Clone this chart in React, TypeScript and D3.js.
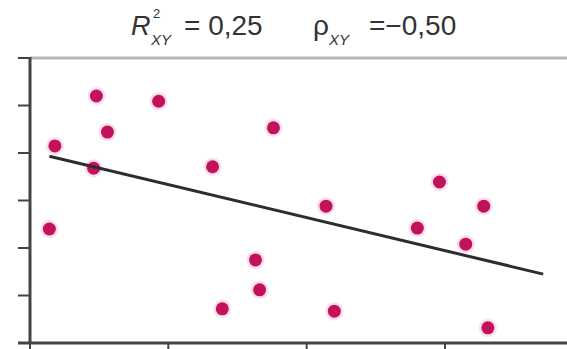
import { useMemo } from 'react';
import { scaleLinear, line, mean } from 'd3';

// scatter values
const xs = [0.14, 0.18, 0.48, 0.46, 0.56, 0.93, 1.32, 1.76, 1.39, 1.63, 1.66, 2.14, 2.2, 2.8, 2.96, 3.15, 3.28, 3.31];
const ys = [2.4, 4.15, 5.2, 3.68, 4.44, 5.09, 3.71, 4.53, 0.72, 1.75, 1.12, 2.88, 0.67, 2.42, 3.39, 2.08, 2.88, 0.32];
const trendX = [0.14, 3.71];
const xTicks = [0, 1, 2, 3];
const yTicks = [0, 1, 2, 3, 4, 5, 6];

const W = 567;
const H = 349;

export default function App() {
    const xScale = scaleLinear().domain([0, 3]).range([30, 445]);
    const yScale = scaleLinear().domain([0, 6]).range([343, 58]);

    // least squares fit for the trend line
    const fit = useMemo(() => {
        const mx = mean(xs) as number;
        const my = mean(ys) as number;
        let sxy = 0;
        let sxx = 0;
        xs.forEach((x, i) => {
            sxy += (x - mx) * (ys[i] - my);
            sxx += (x - mx) * (x - mx);
        });
        const b = sxy / sxx;
        return { a: my - b * mx, b };
    }, []);

    const trendPath = line<number>()
        .x((d) => xScale(d))
        .y((d) => yScale(fit.a + fit.b * d))(trendX);

    const x0 = xScale(0);
    const yTop = yScale(6);
    const yBot = yScale(0);

    return (
        <svg
            width={W}
            height={H}
            style={{ position: 'fixed', left: 0, top: 0, background: '#fff' }}
            fontFamily="'Liberation Sans', Arial, sans-serif"
        >
            {/* title */}
            <g fill="#333">
                <text x={131} y={35} fontSize={27} fontStyle="italic">R</text>
                <text x={153} y={18} fontSize={13}>2</text>
                <text x={151} y={45} fontSize={15} fontStyle="italic">XY</text>
                <text x={184} y={35} fontSize={28}>= 0,25</text>
                <text x={313} y={35} fontSize={28}>ρ</text>
                <text x={329} y={45} fontSize={15} fontStyle="italic">XY</text>
                <text x={369} y={35} fontSize={28}>=−0,50</text>
            </g>

            {/* frame */}
            <line x1={x0} x2={W} y1={yTop} y2={yTop} stroke="#b5b5b5" strokeWidth={3} />
            <line x1={x0} x2={x0} y1={yTop - 1} y2={yBot + 1} stroke="#444" strokeWidth={3} />
            <line x1={18} x2={W} y1={yBot} y2={yBot} stroke="#444" strokeWidth={3} />
            {yTicks.map((t) => (
                <line key={'y' + t} x1={18} x2={x0} y1={yScale(t)} y2={yScale(t)} stroke="#444" strokeWidth={2} />
            ))}
            {xTicks.map((t) => (
                <line key={'x' + t} x1={xScale(t)} x2={xScale(t)} y1={yBot} y2={H} stroke="#444" strokeWidth={2} />
            ))}

            {/* points */}
            {xs.map((x, i) => (
                <g key={i}>
                    <circle cx={xScale(x)} cy={yScale(ys[i])} r={9} fill="#f7c6e0" opacity={0.6} />
                    <circle cx={xScale(x)} cy={yScale(ys[i])} r={6.5} fill="#c3125c" />
                </g>
            ))}

            {/* trend */}
            <path d={trendPath || ''} fill="none" stroke="#2d2d2d" strokeWidth={3} />
        </svg>
    );
}
